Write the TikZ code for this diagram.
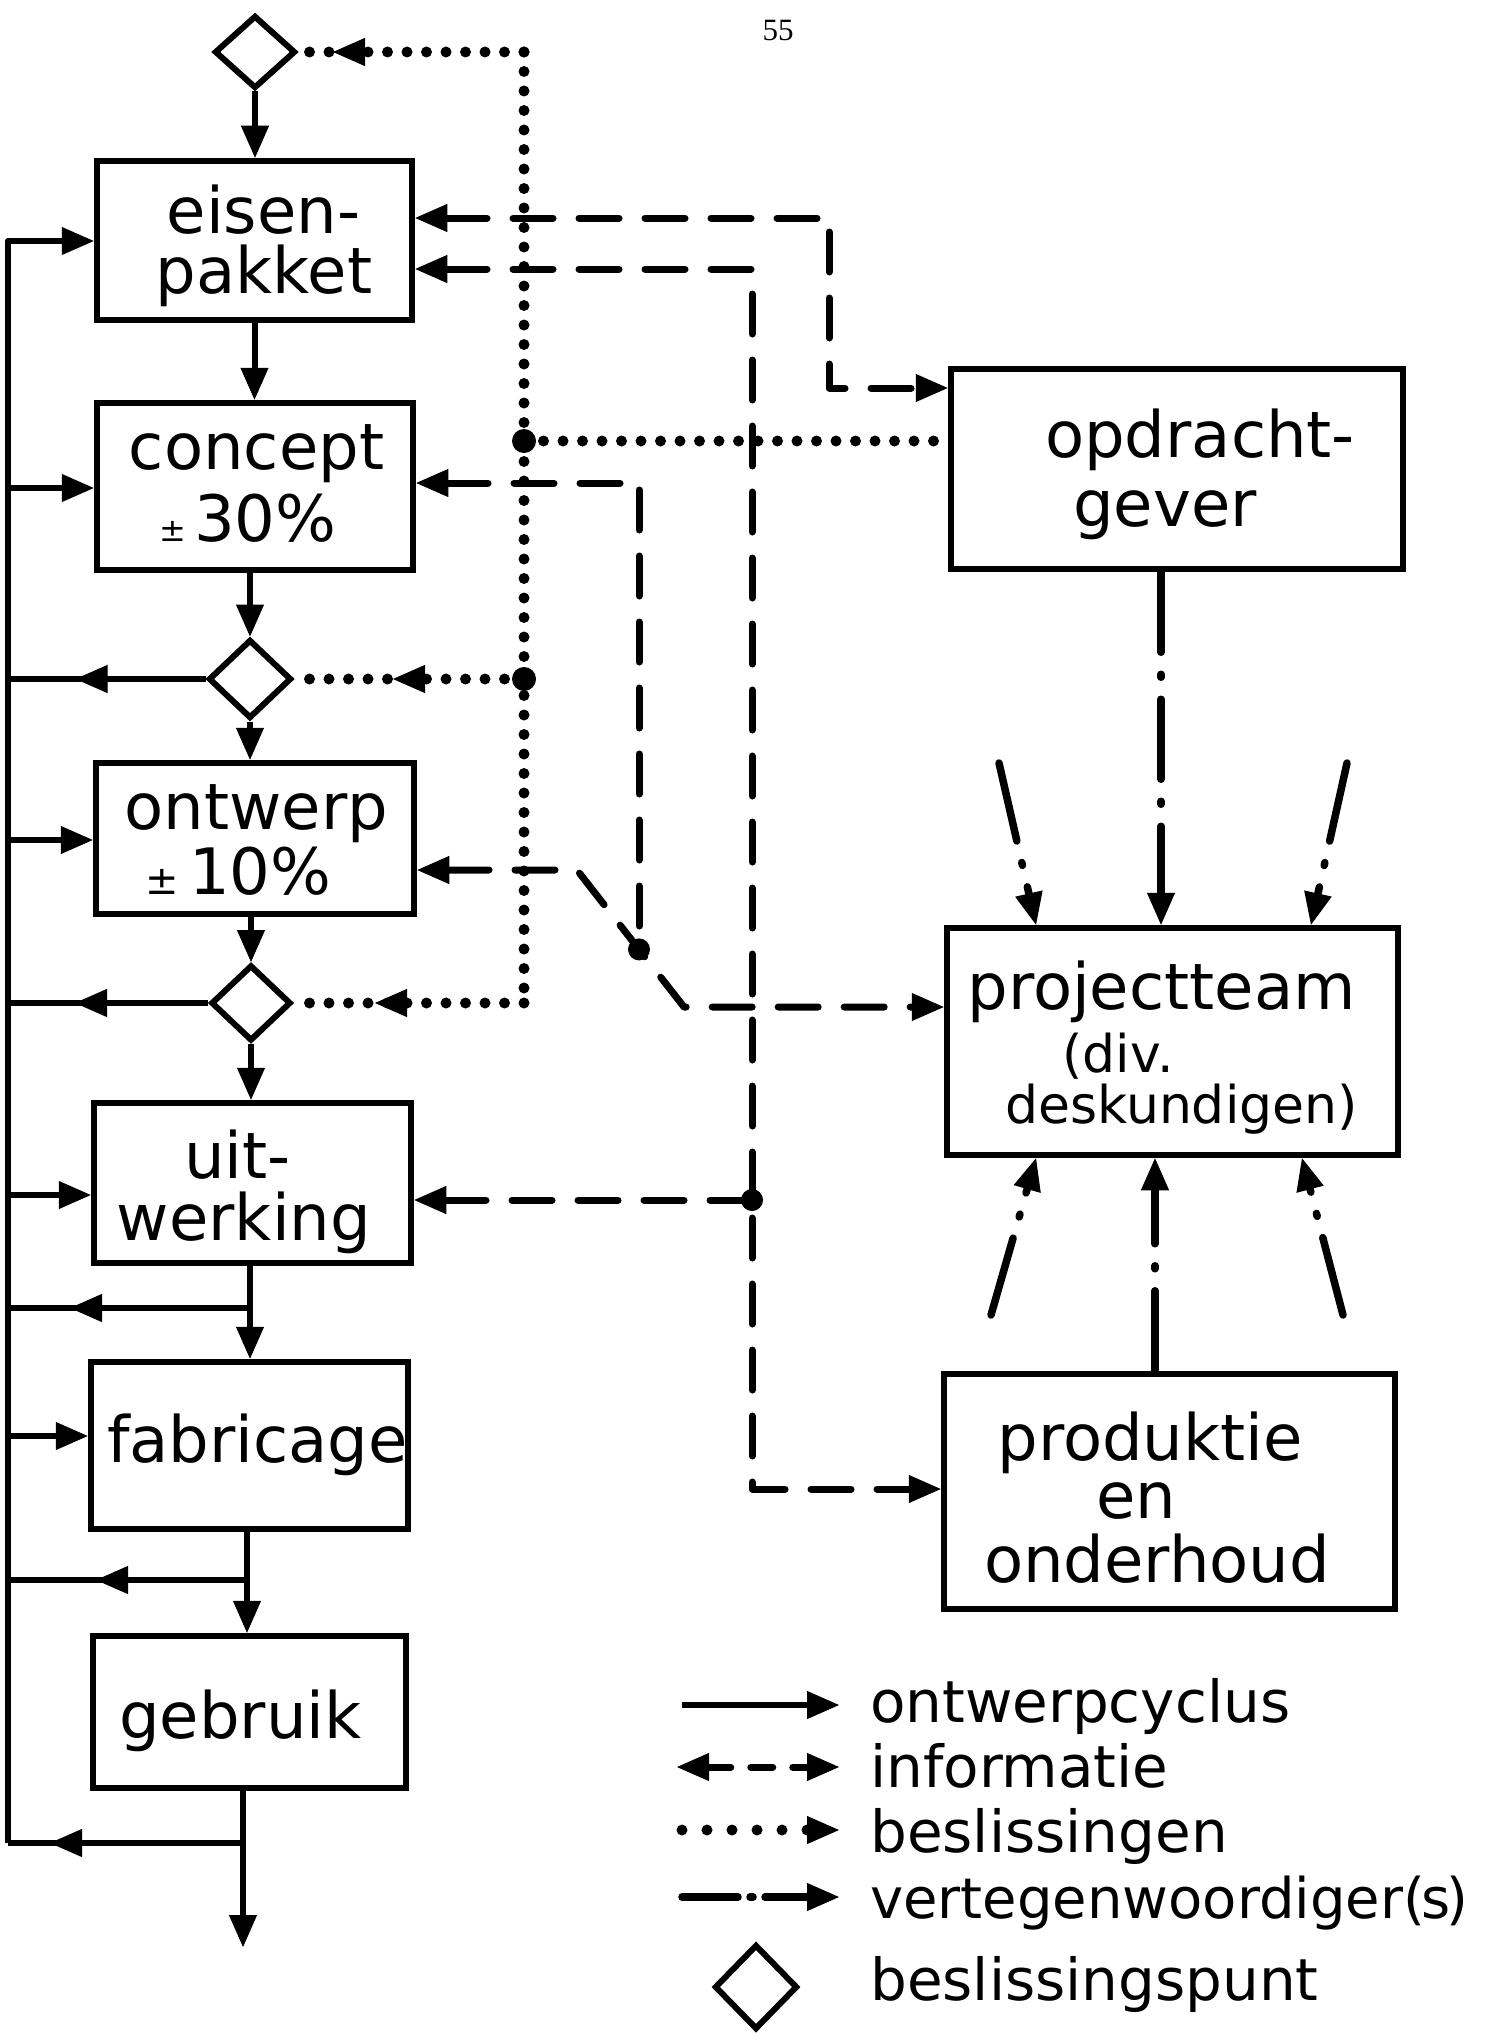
\documentclass[tikz,border=0pt]{standalone}
\usepackage{fontspec}
\setmainfont{DejaVu Sans}
\newfontfamily\pagenumfont{Liberation Serif}
\usetikzlibrary{arrows.meta,shapes.geometric,decorations.markings}
\tikzset{
  mytip/.tip={Triangle[length=32pt,width=28pt,line width=1pt]},
  flow/.style={line width=6pt, line join=round},
  info/.style={line width=7pt, line cap=round, line join=round, dash pattern=on 40pt off 26pt},
  dec/.style={line width=11pt, line cap=round, dash pattern=on 0pt off 19.5pt},
  rep/.style={line width=7.5pt, line cap=round, dash pattern=on 80pt off 22pt on 3pt off 22pt},
  boxnode/.style={draw, line width=6.5pt, rectangle, inner sep=0pt},
  ruit/.style={draw, line width=6pt, diamond, inner sep=0pt},
  bigtxt/.style={font=\fontsize{64pt}{64pt}\selectfont, inner sep=0pt, anchor=base},
  midtxt/.style={font=\fontsize{52pt}{52pt}\selectfont, inner sep=0pt, anchor=base},
  legtxt/.style={font=\fontsize{58pt}{58pt}\selectfont, inner sep=0pt, anchor=base west},
  midarrow/.style={postaction={decorate}, decoration={markings, mark=at position #1 with {\arrow{mytip}}}},
}
\begin{document}
\begin{tikzpicture}[x=1pt,y=-1pt]
\useasboundingbox (0,0) rectangle (1492,2039);
\fill[white] (0,0) rectangle (1492,2039);

% page number
\node[font=\pagenumfont\fontsize{31pt}{31pt}\selectfont, inner sep=0pt] (pg) at (778,31) {55};

% boxes
\node[boxnode, minimum width=315pt, minimum height=159pt] (eisen) at (254.5,240.5) {};
\node[boxnode, minimum width=316pt, minimum height=167pt] (concept) at (255,486.5) {};
\node[boxnode, minimum width=318pt, minimum height=151pt] (ontwerp) at (255,838.5) {};
\node[boxnode, minimum width=317pt, minimum height=160pt] (uit) at (252.5,1183) {};
\node[boxnode, minimum width=317pt, minimum height=167pt] (fab) at (249.5,1445.5) {};
\node[boxnode, minimum width=313pt, minimum height=152pt] (geb) at (249.5,1712) {};
\node[boxnode, minimum width=452pt, minimum height=200pt] (opd) at (1177,469) {};
\node[boxnode, minimum width=451pt, minimum height=227pt] (pt) at (1172.5,1041.5) {};
\node[boxnode, minimum width=451pt, minimum height=235pt] (prod) at (1169.5,1491.5) {};

% box texts
\node[bigtxt] (teisen1) at (263.5,233) {eisen-};
\node[bigtxt] (teisen2) at (264,293) {pakket};
\node[bigtxt] (tcon1) at (256.5,469) {concept};
\node[bigtxt] (tcon2) at (248,541) {{\fontsize{32pt}{32pt}\selectfont ±}\hspace{8pt}30\%};
\node[bigtxt] (tont1) at (256.5,829) {ontwerp};
\node[bigtxt] (tont2) at (238.5,894) {{\fontsize{40pt}{40pt}\selectfont ±}\hspace{10pt}10\%};
\node[bigtxt] (tuit1) at (237.5,1178) {uit-};
\node[bigtxt] (tuit2) at (244,1240) {werking};
\node[bigtxt] (tfab) at (257.5,1462) {fabricage};
\node[bigtxt] (tgeb) at (240.5,1738) {gebruik};
\node[bigtxt] (topd1) at (1200,457) {opdracht-};
\node[bigtxt] (topd2) at (1165,526) {gever};
\node[bigtxt] (tpt1) at (1161.5,1009) {projectteam};
\node[midtxt] (tpt2) at (1118,1072) {(div.};
\node[midtxt] (tpt3) at (1181.5,1123) {deskundigen)};
\node[bigtxt] (tpr1) at (1150,1460) {produktie};
\node[bigtxt] (tpr2) at (1136.5,1518) {en};
\node[bigtxt] (tpr3) at (1157,1582) {onderhoud};

% decision points
\node[ruit, minimum width=81pt, minimum height=73pt] (d0) at (255,52) {};
\node[ruit, minimum width=83pt, minimum height=79pt] (d1) at (250,679) {};
\node[ruit, minimum width=80pt, minimum height=76pt] (d2) at (251,1003) {};

% coordinates of the design cycle
\coordinate (vL) at (8,241);
\coordinate (vLb) at (8,1843);
\coordinate (b1) at (250,1308);
\coordinate (b2) at (247,1580);
\coordinate (b3) at (243,1843);
\coordinate (endarrow) at (243,1947);
\coordinate (fC) at (8,488);
\coordinate (fO) at (8,840);
\coordinate (fU) at (8,1195);
\coordinate (fF) at (8,1436);

% design cycle (solid)
\draw[flow,-{mytip}] (d0.south) -- (d0.south |- eisen.north);
\draw[flow,-{mytip}] (eisen.south) -- (eisen.south |- concept.north);
\draw[flow,-{mytip}] (concept.south -| d1.north) -- (d1.north);
\draw[flow,-{mytip}] (d1.south) -- (d1.south |- ontwerp.north);
\draw[flow,-{mytip}] (ontwerp.south -| d2.north) -- (d2.north);
\draw[flow,-{mytip}] (d2.south) -- (d2.south |- uit.north);
\draw[flow,-{mytip}] (uit.south -| b1) -- (fab.north -| b1);
\draw[flow,-{mytip}] (fab.south -| b2) -- (geb.north -| b2);
\draw[flow,-{mytip}] (geb.south -| b3) -- (endarrow);
\draw[flow,-{mytip}] (vLb) -- (vL) -- (vL -| eisen.west);
\draw[flow,-{mytip}] (fC) -- (fC -| concept.west);
\draw[flow,-{mytip}] (fO) -- (fO -| ontwerp.west);
\draw[flow,-{mytip}] (fU) -- (fU -| uit.west);
\draw[flow,-{mytip}] (fF) -- (fF -| fab.west);
\draw[flow, midarrow=130pt] (d1.west) -- (d1.west -| vL);
\draw[flow, midarrow=133pt] (d2.west) -- (d2.west -| vL);
\draw[flow, midarrow=180pt] (b1) -- (b1 -| vL);
\draw[flow, midarrow=151pt] (b2) -- (b2 -| vL);
\draw[flow, midarrow=193pt] (b3) -- (vLb);

% decisions (dotted)
\coordinate (vT) at (524,52);
\coordinate (j1) at (524,441);
\coordinate (j2) at (524,679);
\coordinate (vB) at (524,1003);
\draw[dec] (vT) -- (vB);
\draw[dec, midarrow=191pt] (vT) -- (d0.east);
\draw[dec, midarrow=131pt] (j2) -- (d1.east);
\draw[dec, midarrow=149pt] (vB) -- (d2.east);
\draw[dec] (j1) -- (j1 -| opd.west);
\fill (j1) circle[radius=12pt];
\fill (j2) circle[radius=12pt];

% information (dashed)
\coordinate (i1a) at (829,218);
\coordinate (i1b) at (829,388);
\draw[info,{mytip}-{mytip}] (eisen.east |- i1a) -- (i1a) -- (i1b) -- (i1b -| opd.west);
\coordinate (i2a) at (752,269);
\coordinate (i2b) at (752,1489);
\draw[info,{mytip}-{mytip}] (eisen.east |- i2a) -- (i2a) -- (i2b) -- (i2b -| prod.west);
\coordinate (i3a) at (639,483);
\coordinate (jD) at (639,949.4);
\draw[info,{mytip}-] (concept.east |- i3a) -- (i3a) -- (jD);
\coordinate (i4a) at (577,870);
\coordinate (i4b) at (684,1007);
\draw[info,{mytip}-{mytip}] (ontwerp.east |- i4a) -- (i4a) -- (i4b) -- (i4b -| pt.west);
\coordinate (jU) at (752,1200);
\draw[info,{mytip}-] (uit.east |- jU) -- (jU);
\fill (jD) circle[radius=11pt];
\fill (jU) circle[radius=11pt];

% representatives (dash-dot)
\coordinate (r0) at (1161,0);
\draw[rep,-{mytip}] (opd.south -| r0) -- (pt.north -| r0);
\coordinate (r1s) at (999,763);
\coordinate (r1e) at (1036,0);
\draw[rep,-{mytip}] (r1s) -- (pt.north -| r1e);
\coordinate (r2s) at (1347,763);
\coordinate (r2e) at (1311,0);
\draw[rep,-{mytip}] (r2s) -- (pt.north -| r2e);
\coordinate (r3) at (1155,0);
\draw[rep,-{mytip}] (prod.north -| r3) -- (pt.south -| r3);
\coordinate (r4s) at (991,1315);
\coordinate (r4e) at (1036,0);
\draw[rep,-{mytip}] (r4s) -- (pt.south -| r4e);
\coordinate (r5s) at (1343,1315);
\coordinate (r5e) at (1302,0);
\draw[rep,-{mytip}] (r5s) -- (pt.south -| r5e);

% legend
\coordinate (la1) at (682,1705); \coordinate (lb1) at (839,1705);
\draw[flow,-{mytip}] (la1) -- (lb1);
\coordinate (la2) at (677,1767); \coordinate (lb2) at (839,1767);
\draw[info, dash pattern=on 22pt off 20pt, {mytip}-{mytip}] (la2) -- (lb2);
\coordinate (la3) at (682,1830); \coordinate (lb3) at (839,1830);
\draw[dec, dash pattern=on 0pt off 25pt, -{mytip}] (la3) -- (lb3);
\coordinate (la4) at (682,1897); \coordinate (lb4) at (839,1897);
\draw[rep, dash pattern=on 56pt off 12pt on 3pt off 12pt, -{mytip}] (la4) -- (lb4);
\node[ruit, minimum width=83pt, minimum height=85pt] (dl) at (756,1987) {};

\node[legtxt] (lt1) at (870,1722) {ontwerpcyclus};
\node[legtxt] (lt2) at (870,1787) {informatie};
\node[legtxt] (lt3) at (870,1852) {beslissingen};
\node[legtxt, font=\fontsize{56pt}{56pt}\selectfont] (lt4) at (870,1918) {vertegenwoordiger(\kern-4pt s\kern-4pt)};
\node[legtxt] (lt5) at (870,2000) {beslissingspunt};
\end{tikzpicture}
\end{document}
